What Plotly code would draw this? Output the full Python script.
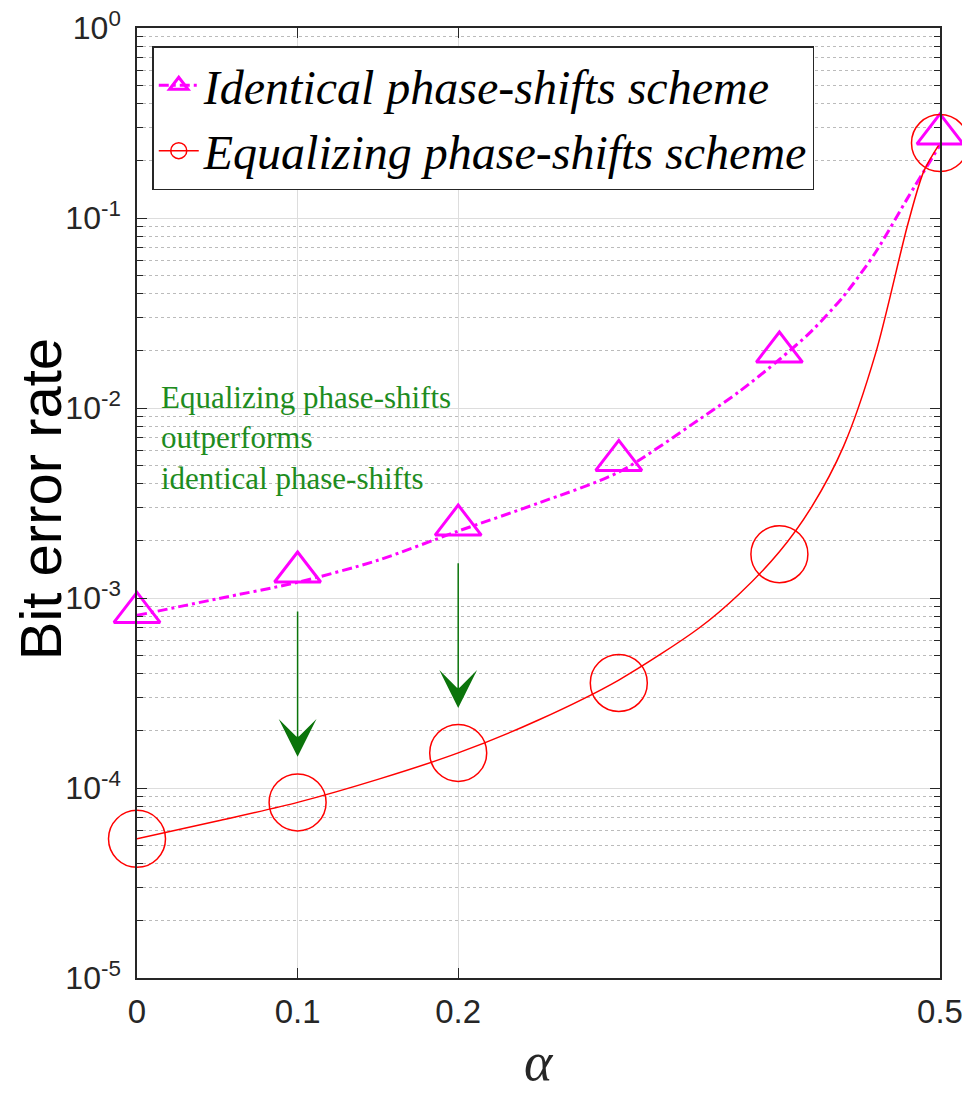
import math
import plotly.graph_objects as go

# ---------------- data ----------------
alpha_sim = [0, 0.1, 0.2, 0.3, 0.4, 0.5]
ber_identical_sim = [8.4e-4, 1.37e-3, 2.42e-3, 5.3e-3, 1.97e-2, 0.277]
ber_equalizing_sim = [5.4e-5, 8.4e-5, 1.53e-4, 3.57e-4, 1.70e-3, 0.248]

alpha_theory_id = [0, 0.05, 0.1, 0.15, 0.2, 0.25, 0.3, 0.35, 0.375, 0.4,
                   0.42, 0.44, 0.46, 0.48, 0.5]
ber_identical_theory = [8.1e-4, 9.9e-4, 1.21e-3, 1.58e-3, 2.25e-3, 3.16e-3, 4.6e-3,
                        8.7e-3, 1.22e-2, 1.8e-2, 2.54e-2, 3.88e-2, 6.62e-2, 0.128, 0.242]

alpha_theory_eq = [0, 0.05, 0.1, 0.15, 0.2, 0.25, 0.3, 0.35, 0.375, 0.4,
                   0.42, 0.44, 0.46, 0.48, 0.49, 0.5]
ber_equalizing_theory = [5.4e-5, 6.7e-5, 8.4e-5, 1.11e-4, 1.53e-4, 2.28e-4, 3.7e-4,
                         6.95e-4, 1.05e-3, 1.75e-3, 3.01e-3, 6.3e-3, 1.95e-2, 9.3e-2,
                         0.177, 0.248]

series_names = ["Identical phase-shifts scheme", "Equalizing phase-shifts scheme"]

x_tickvals = [0, 0.1, 0.2, 0.5]
x_ticktext = ["0", "0.1", "0.2", "0.5"]
y_tickvals = [1e-5, 1e-4, 1e-3, 1e-2, 1e-1, 1e0]
y_ticktext = ["10<sup>-5</sup>", "10<sup>-4</sup>", "10<sup>-3</sup>",
              "10<sup>-2</sup>", "10<sup>-1</sup>", "10<sup>0</sup>"]

arrow_alpha = [0.1, 0.2]
arrow_from_ber = [8.65e-4, 1.55e-3]
arrow_to_ber = [1.46e-4, 2.64e-4]

note_text = "Equalizing phase-shifts<br>outperforms<br>identical phase-shifts"
y_title = "Bit error rate"
x_title = "<i>α</i>"

# ---------------- styles ----------------
MAGENTA = "#FF00FF"
RED = "#FF0000"
GREEN_TXT = "#1E8C1E"
GREEN_ARR = "#0B740B"
AXCOL = "#262626"
MAG_DASH = "10px,4px,3px,4px"

fig = go.Figure()

# theory curves
fig.add_trace(go.Scatter(x=alpha_theory_id, y=ber_identical_theory, mode="lines",
                         line=dict(color=MAGENTA, width=3, dash=MAG_DASH,
                                   shape="spline", smoothing=0.8),
                         showlegend=False, hoverinfo="skip"))
fig.add_trace(go.Scatter(x=alpha_theory_eq, y=ber_equalizing_theory, mode="lines",
                         line=dict(color=RED, width=1.5, shape="spline", smoothing=0.8),
                         showlegend=False, hoverinfo="skip"))
# simulation markers
fig.add_trace(go.Scatter(x=alpha_sim, y=ber_identical_sim, mode="markers",
                         marker=dict(symbol="triangle-up-open", size=40, color=MAGENTA,
                                     line=dict(color=MAGENTA, width=3)),
                         showlegend=False, cliponaxis=False))
fig.add_trace(go.Scatter(x=alpha_sim, y=ber_equalizing_sim, mode="markers",
                         marker=dict(symbol="circle-open", size=57, color=RED,
                                     line=dict(color=RED, width=1.5)),
                         showlegend=False, cliponaxis=False))
# legend entries
fig.add_trace(go.Scatter(x=[None], y=[None], mode="lines+markers", name=series_names[0],
                         line=dict(color=MAGENTA, width=3, dash=MAG_DASH),
                         marker=dict(symbol="triangle-up-open", size=40, color=MAGENTA,
                                     line=dict(color=MAGENTA, width=3))))
fig.add_trace(go.Scatter(x=[None], y=[None], mode="lines+markers", name=series_names[1],
                         line=dict(color=RED, width=1.5),
                         marker=dict(symbol="circle-open", size=57, color=RED,
                                     line=dict(color=RED, width=1.5))))

annotations = []
for xa, yf, yt in zip(arrow_alpha, arrow_from_ber, arrow_to_ber):
    annotations.append(dict(x=xa, y=math.log10(yt), ax=xa, ay=math.log10(yf),
                            xref="x", yref="y", axref="x", ayref="y",
                            text="", showarrow=True, arrowhead=3, arrowsize=4.2,
                            arrowwidth=1.5, arrowcolor=GREEN_ARR, standoff=0))
annotations.append(dict(x=0.014, y=-1.84, xref="x", yref="y", xanchor="left", yanchor="top",
                        text=note_text, showarrow=False, align="left",
                        font=dict(family="Liberation Serif", size=31, color=GREEN_TXT)))
annotations.append(dict(x=-0.1208, y=0.504, xref="paper", yref="paper",
                        xanchor="center", yanchor="middle", textangle=-90,
                        text=y_title, showarrow=False,
                        font=dict(family="Liberation Sans", size=58, color="black")))
annotations.append(dict(x=0.5, y=-0.1221, xref="paper", yref="paper",
                        xanchor="center", yanchor="bottom",
                        text=x_title, showarrow=False,
                        font=dict(family="Liberation Serif", size=54, color=AXCOL)))

fig.update_layout(
    width=962, height=1094,
    margin=dict(l=137, r=22, t=28, b=116, autoexpand=False),
    paper_bgcolor="white", plot_bgcolor="white",
    showlegend=True,
    legend=dict(x=0.019, y=0.981, xanchor="left", yanchor="top",
                bgcolor="white", bordercolor=AXCOL, borderwidth=1.5,
                font=dict(family="Liberation Serif", size=48, color="black", style="italic"),
                itemwidth=40, tracegroupgap=0),
    annotations=annotations,
    xaxis=dict(range=[0, 0.5], tickmode="array", tickvals=x_tickvals, ticktext=x_ticktext,
               automargin=False, ticklabeloverflow="allow",
               showgrid=True, gridcolor="#DDDDDD", gridwidth=1,
               ticks="inside", ticklen=10, tickwidth=1.2, tickcolor=AXCOL,
               showline=True, linecolor=AXCOL, linewidth=1.5, mirror="allticks",
               zeroline=False,
               tickfont=dict(family="Liberation Sans", size=33, color=AXCOL),
               ticklabelstandoff=4),
    yaxis=dict(type="log", range=[-5, 0], tickmode="array", tickvals=y_tickvals,
               ticktext=y_ticktext, automargin=False, ticklabeloverflow="allow",
               showgrid=True, gridcolor="#DDDDDD", gridwidth=1,
               ticks="inside", ticklen=10, tickwidth=1.2, tickcolor=AXCOL,
               showline=True, linecolor=AXCOL, linewidth=1.5, mirror="allticks",
               zeroline=False,
               tickfont=dict(family="Liberation Sans", size=32, color=AXCOL),
               ticklabelstandoff=8,
               minor=dict(dtick="D1", ticks="inside", ticklen=6, tickcolor=AXCOL,
                          showgrid=True, gridcolor="#BBBBBB", griddash="dot", gridwidth=1)),
)

# remove the default 8px page margin so the 962x1094 figure fills the window exactly
fig.write_html("out.html", config={"displayModeBar": False},
               post_script="document.body.style.margin='0px';")
